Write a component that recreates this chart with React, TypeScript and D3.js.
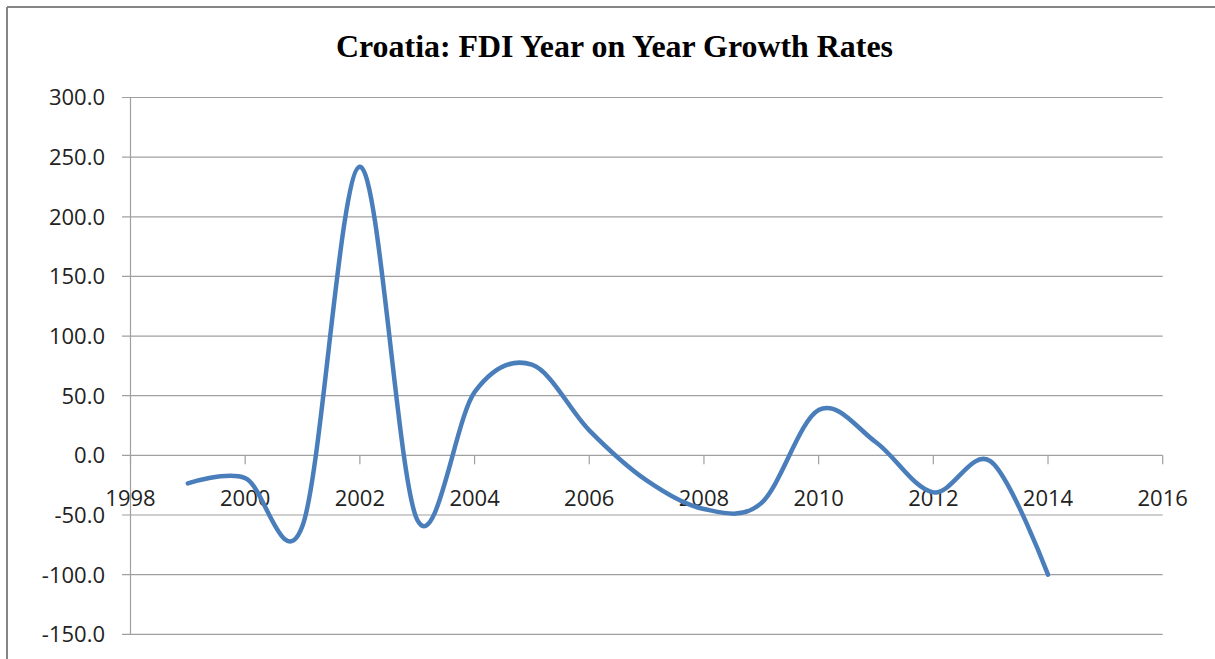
import React from "react";
import * as d3 from "d3";

const TITLE = "Croatia: FDI Year on Year Growth Rates";
const years = [1999, 2000, 2001, 2002, 2003, 2004, 2005, 2006, 2007, 2008, 2009, 2010, 2011, 2012, 2013, 2014];
const growth = [-23.5, -19, -59, 242, -54, 53, 76, 21, -21, -45, -40, 38, 11, -31, -5, -100];
const xTicks = [1998, 2000, 2002, 2004, 2006, 2008, 2010, 2012, 2014, 2016];
const yTicks = [-150, -100, -50, 0, 50, 100, 150, 200, 250, 300];

export default function App() {
  const W = 1215, H = 659;
  const x = d3.scaleLinear().domain([1998, 2016]).range([130.5, 1162.7]);
  const y = d3.scaleLinear().domain([-150, 300]).range([634.3, 97.5]);
  const line = d3
    .line<number>()
    .x((_, i) => x(years[i]))
    .y((d) => y(d))
    .curve(d3.curveCardinal.tension(0));
  const grid = "#a0a0a0";
  const font = "'Open Sans', sans-serif";
  return (
    <svg width={W} height={H} style={{ position: "absolute", left: 0, top: 0, background: "#fff" }}>
      <rect x={0} y={0} width={W} height={H} fill="#fff" />
      {/* frame */}
      <line x1={7} y1={7} x2={W} y2={7} stroke="#858585" strokeWidth={2} />
      <line x1={7} y1={7} x2={7} y2={H} stroke="#858585" strokeWidth={2} />
      <text
        x={614.5}
        y={56.7}
        textAnchor="middle"
        fontFamily="'Liberation Serif', 'Times New Roman', serif"
        fontWeight="bold"
        fontSize={31}
        textLength={557}
        lengthAdjust="spacingAndGlyphs"
        fill="#000"
      >
        {TITLE}
      </text>
      {/* horizontal gridlines + y ticks */}
      {yTicks.map((t) => (
        <g key={t}>
          <line x1={122} x2={x(2016)} y1={y(t)} y2={y(t)} stroke={grid} strokeWidth={1.2} />
          <text
            x={105}
            y={y(t)}
            dy="0.36em"
            textAnchor="end"
            fontFamily={font}
            fontSize={22}
            fill="#222"
          >
            {t.toFixed(1)}
          </text>
        </g>
      ))}
      {/* y axis */}
      <line x1={x(1998)} x2={x(1998)} y1={y(300)} y2={y(-150)} stroke={grid} strokeWidth={1.2} />
      {/* x axis ticks at y=0 */}
      {xTicks.map((t) => (
        <g key={t}>
          <line x1={x(t)} x2={x(t)} y1={y(0)} y2={y(0) + 9} stroke={grid} strokeWidth={1.2} />
          <text
            x={x(t)}
            y={498}
            dy="0.36em"
            textAnchor="middle"
            fontFamily={font}
            fontSize={22}
            fill="#222"
          >
            {t}
          </text>
        </g>
      ))}
      <path d={line(growth) || ""} fill="none" stroke="#4a7ebb" strokeWidth={4.5} strokeLinecap="round" strokeLinejoin="round" />
    </svg>
  );
}
